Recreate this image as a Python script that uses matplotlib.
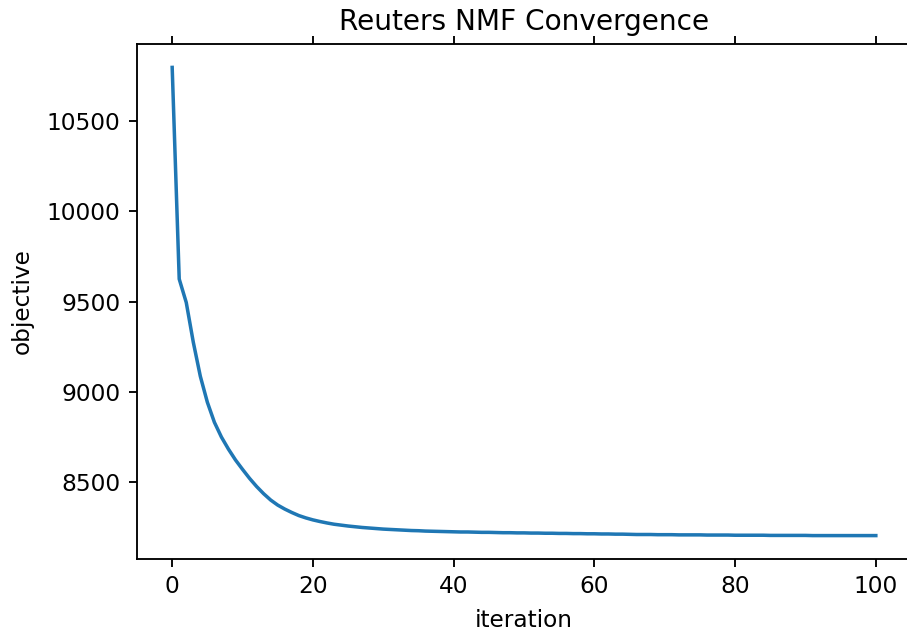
import matplotlib
matplotlib.use("Agg")
import matplotlib.pyplot as plt

# Valeurs de l'objectif (itérations 0 à 100)
objective = [
    10798, 9625, 9495, 9275, 9086, 8942, 8831, 8749, 8682, 8622,
    8570, 8520, 8475, 8435, 8400, 8372, 8350, 8331, 8314, 8301,
    8290, 8281, 8273, 8266, 8261, 8256, 8252, 8248, 8245, 8242,
    8239, 8237, 8235, 8233, 8231, 8230, 8228, 8227, 8226, 8225,
    8224, 8223, 8223, 8222, 8221, 8221, 8220, 8219, 8219, 8218,
    8218, 8217, 8217, 8216, 8216, 8215, 8215, 8214, 8214, 8213,
    8213, 8212, 8212, 8211, 8211, 8210, 8209, 8209, 8209, 8208,
    8208, 8208, 8207, 8207, 8207, 8207, 8206, 8206, 8206, 8206,
    8205, 8205, 8205, 8205, 8205, 8204, 8204, 8204, 8204, 8204,
    8204, 8203, 8203, 8203, 8203, 8203, 8203, 8203, 8203, 8203,
    8203,
]
iterations = list(range(len(objective)))

s = 1.12  # échelle des textes et des traits
plt.rcParams.update({
    "font.size": 10 * s,
    "axes.linewidth": 0.8 * s,
    "xtick.major.width": 0.8 * s,
    "ytick.major.width": 0.8 * s,
    "xtick.major.size": 3.5 * s,
    "ytick.major.size": 3.5 * s,
})

fig = plt.figure(figsize=(907 / 150, 633 / 150), dpi=150)
ax = fig.add_axes([137 / 907, 1 - 559 / 633, (911 - 137) / 907, (559 - 44) / 633])

ax.plot(iterations, objective, color="#1f77b4", linewidth=1.5 * s)

ax.set_title("Reuters NMF Convergence", fontsize=12 * s, pad=6 * s)
ax.set_xlabel("iteration", labelpad=4.5 * s)
ax.set_ylabel("objective", labelpad=5.5 * s)
ax.set_xticks([0, 20, 40, 60, 80, 100])
ax.set_yticks([8500, 9000, 9500, 10000, 10500])
ax.tick_params(top=True, labeltop=False, pad=3.5 * s)
ax.spines["right"].set_visible(False)

fig.savefig("out.png", dpi=150)
